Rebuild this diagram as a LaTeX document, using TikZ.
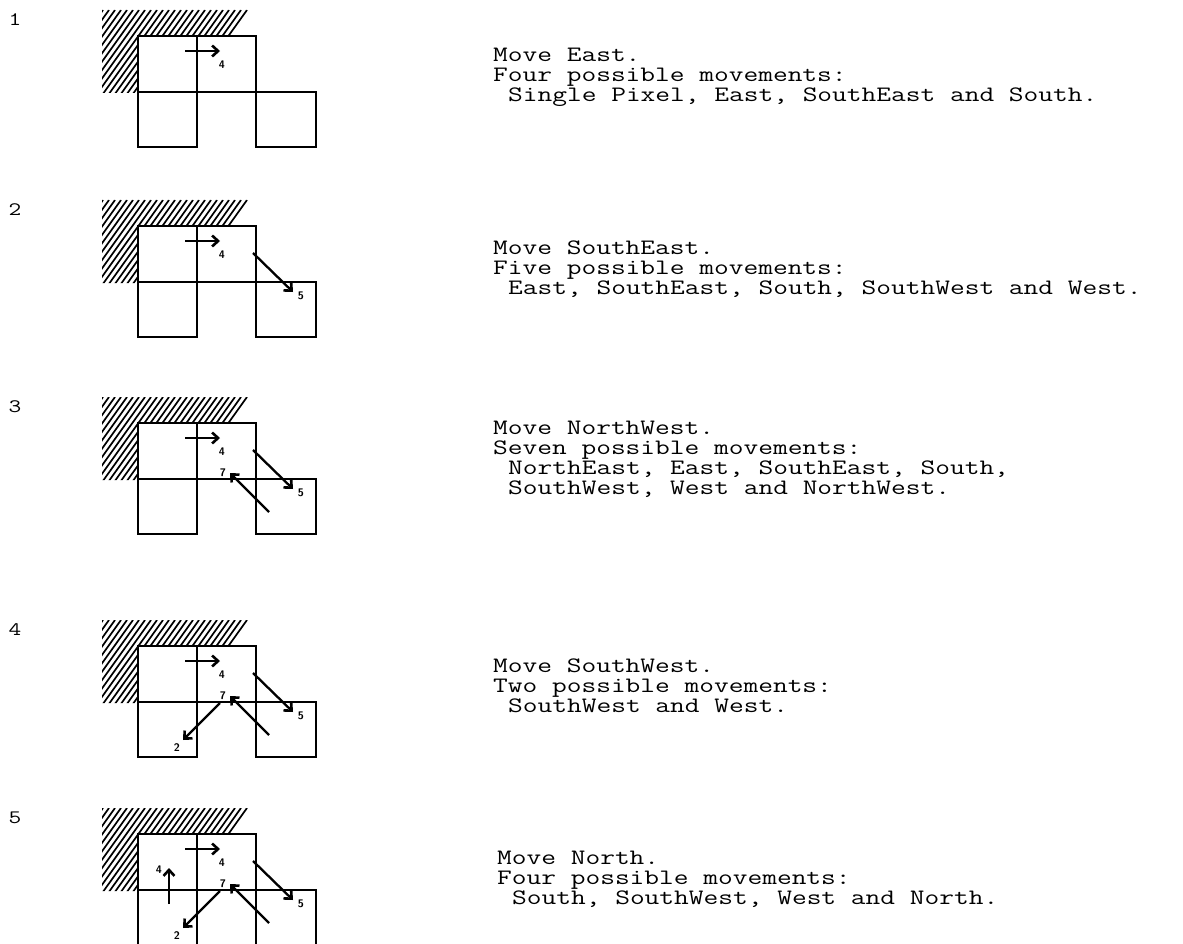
\documentclass[tikz,border=0pt]{standalone}
\usepackage{fontspec}
\setmonofont[FakeStretch=1.3]{Latin Modern Mono}
\usetikzlibrary{arrows.meta}

\tikzset{
	cell/.style={line width=2.6pt},
	mv/.style={line width=2.3pt,-{Straight Barb[length=6pt,width=11pt,line width=2.6pt]}},
	lbl/.style={font=\sffamily\bfseries\fontsize{11}{11}\selectfont,inner sep=0pt},
	hatchline/.style={line width=1.7pt},
	caption/.style={font=\ttfamily\fontsize{22}{20}\selectfont,anchor=base west,inner sep=0pt},
	num/.style={font=\ttfamily\fontsize{19}{19}\selectfont,inner sep=0pt}
}

% wall and the four pixels, local coordinates (top of the grid at y=0)
\newcommand{\wallgrid}{%
	\begin{scope}
		\clip (102,-26) -- (250,-26) -- (232,0) -- (138,0) -- (138,57) -- (102,57) -- cycle;
		\foreach \h in {40,46,...,256}
		\draw[hatchline] (\h,62) -- ++(63,-88);
	\end{scope}
	\draw[cell] (138,0) rectangle (197,56);
	\draw[cell] (197,0) rectangle (256,56);
	\draw[cell] (138,56) rectangle (197,111);
	\draw[cell] (256,56) rectangle (316,111);
}
% the single moves, #1 = panel
\newcommand{\moveE}[1]{%
	\draw[mv] (185,15) -- (220,15);
	\node[lbl] (e#1) at (222,29) {4};}
\newcommand{\moveSE}[1]{%
	\draw[mv] (253,27) -- (293,66);
	\node[lbl] (se#1) at (301,70) {5};}
\newcommand{\moveNW}[1]{%
	\draw[mv] (269,89) -- (230,50);
	\node[lbl] (nw#1) at (223,50) {7};}
\newcommand{\moveSW}[1]{%
	\draw[mv] (220,57) -- (183,94);
	\node[lbl] (sw#1) at (177,102) {2};}
\newcommand{\moveN}[1]{%
	\draw[mv] (169,70) -- (169,34);
	\node[lbl] (n#1) at (159,36) {4};}

\begin{document}
\begin{tikzpicture}[x=1pt,y=-1pt]
	\useasboundingbox (0,0) rectangle (1183,944);

	% step 1
	\begin{scope}[shift={(0,36)}]
		\node[num] (n1) at (15,-16) {1};
		\wallgrid
		\moveE{1}
		\node[caption] (a1) at (493,26) {Move East.};
		\node[caption] (b1) at (493,46) {Four possible movements:};
		\node[caption] (c1) at (508,66) {Single Pixel, East, SouthEast and South.};
	\end{scope}

	% step 2
	\begin{scope}[shift={(0,226)}]
		\node[num] (n2) at (15,-16) {2};
		\wallgrid
		\moveE{2}
		\moveSE{2}
		\node[caption] (a2) at (493,28) {Move SouthEast.};
		\node[caption] (b2) at (493,48) {Five possible movements:};
		\node[caption] (c2) at (508,68) {East, SouthEast, South, SouthWest and West.};
	\end{scope}

	% step 3
	\begin{scope}[shift={(0,423)}]
		\node[num] (n3) at (15,-16) {3};
		\wallgrid
		\moveE{3}
		\moveSE{3}
		\moveNW{3}
		\node[caption] (a3) at (493,11) {Move NorthWest.};
		\node[caption] (b3) at (493,31) {Seven possible movements:};
		\node[caption] (c3) at (508,51) {NorthEast, East, SouthEast, South,};
		\node[caption] (d3) at (508,71) {SouthWest, West and NorthWest.};
	\end{scope}

	% step 4
	\begin{scope}[shift={(0,646)}]
		\node[num] (n4) at (15,-16) {4};
		\wallgrid
		\moveE{4}
		\moveSE{4}
		\moveNW{4}
		\moveSW{4}
		\node[caption] (a4) at (493,26) {Move SouthWest.};
		\node[caption] (b4) at (493,46) {Two possible movements:};
		\node[caption] (c4) at (508,66) {SouthWest and West.};
	\end{scope}

	% step 5
	\begin{scope}[shift={(0,834)}]
		\node[num] (n5) at (15,-16) {5};
		\wallgrid
		\moveE{5}
		\moveSE{5}
		\moveNW{5}
		\moveSW{5}
		\moveN{5}
		\node[caption] (a5) at (497,30) {Move North.};
		\node[caption] (b5) at (497,50) {Four possible movements:};
		\node[caption] (c5) at (512,70) {South, SouthWest, West and North.};
	\end{scope}
\end{tikzpicture}
\end{document}
